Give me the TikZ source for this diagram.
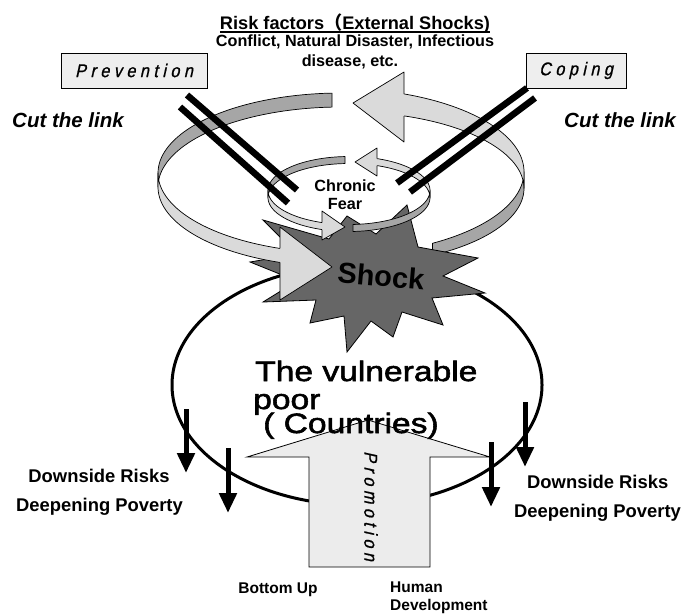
\documentclass[tikz,border=0pt]{standalone}
\usepackage{fontspec}
\setmainfont{Liberation Sans}
\newfontfamily\spacedfont[LetterSpace=24,FakeStretch=0.88,FakeSlant=0.22,FakeBold=0.8]{Liberation Sans}
\newfontfamily\bigfont[FakeStretch=1.2,FakeBold=2]{Liberation Sans}
\newfontfamily\cjkfont{Noto Sans CJK JP}
\usetikzlibrary{arrows.meta,shapes.geometric,calc}
\definecolor{bandDark}{RGB}{166,166,166}
\definecolor{bandLight}{RGB}{218,218,218}
\definecolor{shockFill}{RGB}{102,102,102}
\definecolor{boxFill}{RGB}{238,238,238}
\definecolor{promFill}{RGB}{236,236,236}
\begin{document}
\begin{tikzpicture}[x=1pt,y=-1pt]
\tikzset{
  ribbon/.style={draw=black, line width=0.7pt, line join=round},
  darkband/.style={ribbon, fill=bandDark},
  lightband/.style={ribbon, fill=bandLight},
  cutbar/.style={line width=6.5pt, draw=black},
  downarrow/.style={line width=5pt, -{Triangle[width=17pt,length=20pt]}},
  lbl/.style={inner sep=0pt, font=\bfseries\fontsize{18.4}{22}\selectfont},
  smalllbl/.style={inner sep=0pt, font=\bfseries\fontsize{15.5}{18}\selectfont},
  toplbl/.style={inner sep=0pt, font=\bfseries\fontsize{16.2}{19}\selectfont},
  cutlbl/.style={inner sep=0pt, font=\bfseries\itshape\fontsize{20.5}{24}\selectfont},
  spacedlbl/.style={inner sep=0pt, font=\spacedfont\fontsize{18.5}{20}\selectfont},
  biglbl/.style={inner sep=0pt, font=\bigfont\fontsize{28}{30}\selectfont},
  labelbox/.style={draw=black, fill=boxFill, line width=0.9pt, inner sep=0pt, minimum height=35pt}
}
\useasboundingbox (0,0) rectangle (684,614);

% the vulnerable poor ellipse
\node[draw, ellipse, line width=3pt, minimum width=370pt, minimum height=240pt, inner sep=0pt] (vuln) at (357,385) {};

% big ribbon, right part (behind the shock)
\path[darkband] plot[domain=60:0,samples=40] ({341+183*cos(\x)},{180+80*sin(\x)-(6+5*(60-(\x))/130)})
  -- plot[domain=0:60,samples=40] ({341+183*cos(\x)},{180+80*sin(\x)+(6+5*(60-(\x))/130)}) -- cycle;
\path[lightband] plot[domain=0:-72,samples=40] ({341+183*cos(\x)},{180+80*sin(\x)-(6+5*(60-(\x))/130)})
  -- plot[domain=-72:0,samples=40] ({341+183*cos(\x)},{180+80*sin(\x)+(6+5*(60-(\x))/130)}) -- cycle;
\coordinate (th1) at (404,94); \coordinate (th2) at (404,72); \coordinate (th3) at (353,103);
\coordinate (th4) at (404,142); \coordinate (th5) at (404,116);
\path[lightband] (th1) -- (th2) -- (th3) -- (th4) -- (th5);

% shock
\path[draw=black, line width=0.8pt, fill=shockFill, line join=miter]
  (263,220) -- (329,239) -- (347,216) -- (376,234) -- (407,205) -- (418,247) -- (478,258) -- (443,276)
  -- (485,293) -- (432,298) -- (443,325) -- (402,312) -- (393,337) -- (371,321) -- (347,352) -- (344,316)
  -- (310,323) -- (316,300) -- (263,302) -- (297,281) -- (250,262) -- (297,254) -- cycle;
\node[inner sep=0pt, rotate=-5, font=\bfseries\fontsize{29}{30}\selectfont] (shock) at (381,276) {Shock};

% big ribbon, left part with head
\path[darkband] plot[domain=267.2:180,samples=40] ({341+183*cos(\x)},{180+80*sin(\x)-7})
  -- plot[domain=180:267.2,samples=40] ({341+183*cos(\x)},{180+80*sin(\x)+7}) -- cycle;
\path[lightband] plot[domain=180:108,samples=40] ({341+183*cos(\x)},{180+80*sin(\x)-7})
  -- plot[domain=108:180,samples=40] ({341+183*cos(\x)},{180+80*sin(\x)+7}) -- cycle;
\coordinate (lh1) at (280,248.4); \coordinate (lh2) at (280,227); \coordinate (lh3) at (332,267);
\coordinate (lh4) at (280,300); \coordinate (lh5) at (280,262.4);
\path[lightband] (lh1) -- (lh2) -- (lh3) -- (lh4) -- (lh5);

% small ribbon (chronic fear)
\path[darkband] plot[domain=267.2:180,samples=40] ({349+81*cos(\x)},{194+34*sin(\x)-3.5})
  -- plot[domain=180:267.2,samples=40] ({349+81*cos(\x)},{194+34*sin(\x)+3.5}) -- cycle;
\path[lightband] plot[domain=180:107,samples=40] ({349+81*cos(\x)},{194+34*sin(\x)-3.5})
  -- plot[domain=107:180,samples=40] ({349+81*cos(\x)},{194+34*sin(\x)+3.5}) -- cycle;
\path[darkband] plot[domain=87.2:0,samples=40] ({349+81*cos(\x)},{194+34*sin(\x)-3.5})
  -- plot[domain=0:87.2,samples=40] ({349+81*cos(\x)},{194+34*sin(\x)+3.5}) -- cycle;
\path[lightband] plot[domain=0:-72,samples=40] ({349+81*cos(\x)},{194+34*sin(\x)-3.5})
  -- plot[domain=-72:0,samples=40] ({349+81*cos(\x)},{194+34*sin(\x)+3.5}) -- cycle;
\coordinate (sh1) at (322,222.5); \coordinate (sh2) at (322,211); \coordinate (sh3) at (345,227);
\coordinate (sh4) at (322,240); \coordinate (sh5) at (322,229.5);
\path[lightband] (sh1) -- (sh2) -- (sh3) -- (sh4) -- (sh5);
\coordinate (st1) at (377,158.5); \coordinate (st2) at (377,148); \coordinate (st3) at (355,162);
\coordinate (st4) at (377,176); \coordinate (st5) at (377,165.5);
\path[lightband] (st1) -- (st2) -- (st3) -- (st4) -- (st5);

\node[toplbl] (chronic) at (345,186) {Chronic};
\node[toplbl] (fearlbl) at (345,204) {Fear};

% cut bars
\coordinate (pa1) at (187,95);  \coordinate (pa2) at (297,190);
\coordinate (pb1) at (180,107); \coordinate (pb2) at (288,203);
\coordinate (ca1) at (527,88);  \coordinate (ca2) at (397,183);
\coordinate (cb1) at (535,98);  \coordinate (cb2) at (410,192);
\draw[cutbar] (pa1) -- (pa2);
\draw[cutbar] (pb1) -- (pb2);
\draw[cutbar] (ca1) -- (ca2);
\draw[cutbar] (cb1) -- (cb2);

% promotion arrow
\path[draw=black, line width=0.8pt, fill=promFill]
  (309,567) -- (309,457) -- (247,457) -- (368,420) -- (490,457) -- (430,457) -- (430,567) -- cycle;
\node[spacedlbl, rotate=-90] (promo) at (371,506) {Promotion};

% vulnerable poor text
\node[biglbl, anchor=base west] (vt1) at (255,381) {The vulnerable};
\node[biglbl, anchor=base west] (vt2) at (253,409) {poor};
\node[biglbl, anchor=base west] (vt3) at (263,433) {( Countries)};

% down arrows
\coordinate (la1) at (186,409); \coordinate (la2) at (186,473);
\coordinate (lb1) at (228,448); \coordinate (lb2) at (228,513);
\coordinate (ra1) at (525,402); \coordinate (ra2) at (525,467);
\coordinate (rb1) at (491,442); \coordinate (rb2) at (491,507);
\draw[downarrow] (la1) -- (la2);
\draw[downarrow] (lb1) -- (lb2);
\draw[downarrow] (ra1) -- (ra2);
\draw[downarrow] (rb1) -- (rb2);

% top texts
\node[inner sep=0pt, anchor=base, font=\bfseries\fontsize{18.2}{21}\selectfont] (risk) at (355,29)
  {Risk factors{\cjkfont （}External Shocks)};
\draw[line width=1.2pt] ($(risk.base west)+(0,3)$) -- ($(risk.base east)+(0,3)$);
\node[toplbl, anchor=base] (conf) at (355,46) {Conflict, Natural Disaster, Infectious};
\node[toplbl, anchor=base] (dis) at (350,66) {disease, etc.};

% boxes
\node[labelbox, minimum width=146pt] (prev) at (134,70.5) {};
\node[spacedlbl] (prevtxt) at (prev.center) {Prevention};
\node[labelbox, minimum width=100pt] (cope) at (576,70.5) {};
\node[spacedlbl] (copetxt) at (cope.center) {Coping};

\node[cutlbl, anchor=base west] (cutl) at (12,127) {Cut the link};
\node[cutlbl, anchor=base east] (cutr) at (676,127) {Cut the link};

% side labels
\node[lbl, anchor=base] (ldr) at (99,482) {Downside Risks};
\node[lbl, anchor=base west] (ldp) at (16,511) {Deepening Poverty};
\node[lbl, anchor=base west] (rdr) at (527,488) {Downside Risks};
\node[lbl, anchor=base west] (rdp) at (514,517) {Deepening Poverty};

% bottom labels
\node[smalllbl, anchor=base] (bu) at (278,593) {Bottom Up};
\node[smalllbl, anchor=base west] (hum) at (390,592) {Human};
\node[smalllbl, anchor=base west] (dev) at (390,610) {Development};
\end{tikzpicture}
\end{document}
